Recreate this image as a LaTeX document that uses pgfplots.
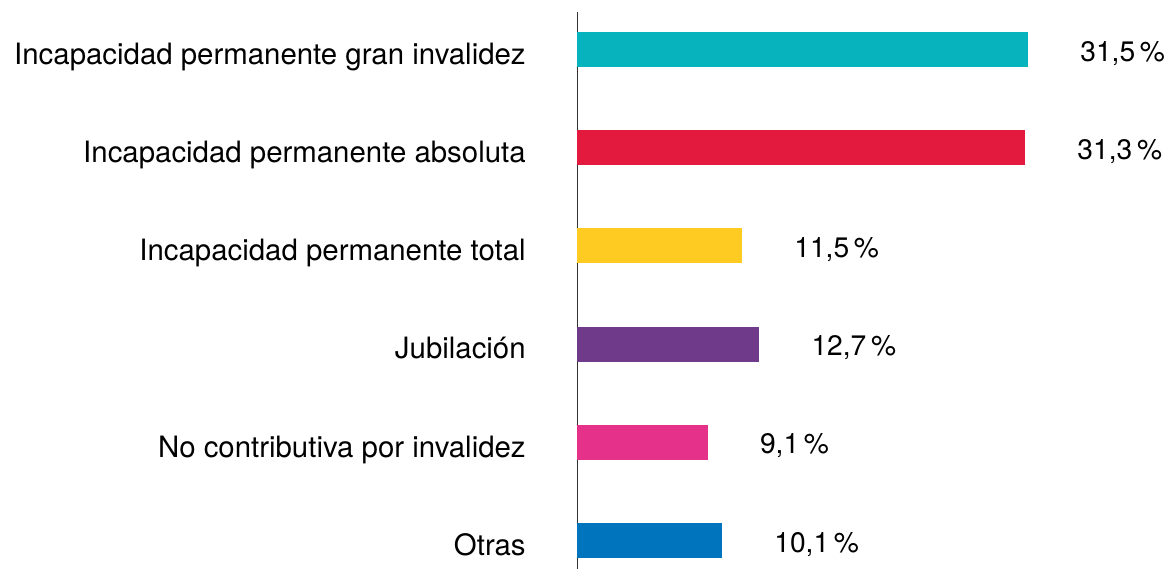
\documentclass[border=0pt]{standalone}
\usepackage{pgfplots}
\pgfplotsset{compat=1.18}
\usepackage{fontspec}
\setmainfont{TeX Gyre Heros}

\definecolor{cTeal}{HTML}{07B3BD}
\definecolor{cRed}{HTML}{E31A3D}
\definecolor{cYellow}{HTML}{FECB22}
\definecolor{cPurple}{HTML}{703A8A}
\definecolor{cPink}{HTML}{E6318A}
\definecolor{cBlue}{HTML}{0075BD}

\begin{document}
\begin{tikzpicture}
\begin{axis}[
    name=ax,
    scale only axis,
    width=286bp, height=278.5bp,
    xmin=0, xmax=40,
    ymin=-0.29, ymax=5.382,
    xbar, bar width=17.5bp, bar shift=0pt,
    hide x axis,
    axis y line*=left,
    axis line style={-, black!80, line width=0.7pt},
    ytick={0,...,5},
    yticklabels={Otras, No contributiva por invalidez, Jubilación,
        Incapacidad permanente total, Incapacidad permanente absoluta,
        Incapacidad permanente gran invalidez},
    major tick length=0pt,
    yticklabel style={font=\fontsize{14.7bp}{17bp}\selectfont, inner sep=0pt,
        anchor=base east, yshift=-7.4bp},
    yticklabel shift=25.7bp,
    nodes near coords,
    point meta=explicit symbolic,
    every node near coord/.append style={font=\fontsize{14.1bp}{17bp}\selectfont,
        black, anchor=base west, inner sep=0pt, xshift=26bp, yshift=-5.8bp},
    clip=false,
]
\addplot[draw=none, fill=cTeal]   coordinates {(31.5,5) [31,5\,\%]};
\addplot[draw=none, fill=cRed]    coordinates {(31.3,4) [31,3\,\%]};
\addplot[draw=none, fill=cYellow] coordinates {(11.5,3) [11,5\,\%]};
\addplot[draw=none, fill=cPurple] coordinates {(12.7,2) [12,7\,\%]};
\addplot[draw=none, fill=cPink]   coordinates {(9.1,1) [9,1\,\%]};
\addplot[draw=none, fill=cBlue]   coordinates {(10.1,0) [10,1\,\%]};
\end{axis}
\path ([xshift=-288.75bp]ax.south west) rectangle ([xshift=296.25bp,yshift=6bp]ax.north west);
\end{tikzpicture}
\end{document}
